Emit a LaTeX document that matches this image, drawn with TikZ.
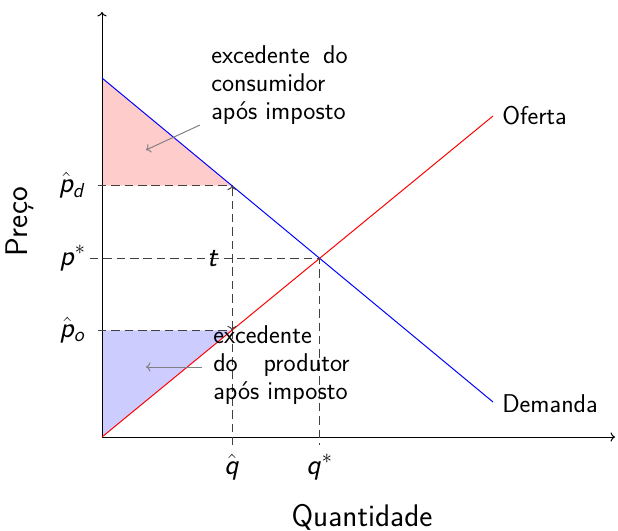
\documentclass[tikz,border=0pt]{standalone}
\usetikzlibrary{arrows.meta,positioning,intersections}
\renewcommand{\familydefault}{\sfdefault}
\DeclareMathAlphabet{\mathsfit}{OT1}{cmss}{m}{sl}
\newcommand{\vp}{\mathsfit{p}}
\newcommand{\vq}{\mathsfit{q}}
\tikzset{curve/.style={line width=0.7pt},
 guide/.style={draw=black!75,line width=0.7pt,dash pattern=on 6pt off 3.5pt},
 ax/.style={->,line width=0.7pt},
 pointer/.style={->,draw=gray,line width=0.7pt},
 lbl/.style={font=\fontsize{18.3}{20}\selectfont,inner sep=0pt},
 mlbl/.style={font=\fontsize{21}{24}\selectfont,inner sep=0pt},
 axlbl/.style={font=\fontsize{22.2}{26}\selectfont,inner sep=0pt},
 surplus/.style={lbl,text width=97pt,align=justify,anchor=west}}

\begin{document}
\begin{tikzpicture}[x=0.025cm,y=0.025cm]
\useasboundingbox (0,0) rectangle (618,531);
\coordinate (o) at (102,94);
\coordinate (ytop) at (102,519);
\coordinate (xend) at (615,94);
\coordinate (d0) at (102,453);
\coordinate (d1) at (493,129);
\coordinate (s1) at (493,415);
\coordinate (pd) at (102,345.3);
\coordinate (po) at (102,200.7);
\coordinate (qpd) at (232,345.3);
\coordinate (qpo) at (232,200.7);
\coordinate (qh) at (232,86);
\coordinate (qs) at (319.6,86);
\coordinate (eq) at (319.6,272.6);
\coordinate (ps) at (90,272.6);
% excedentes
\fill[red!20] (d0)--(pd)--(qpd)--cycle;
\fill[blue!20] (o)--(po)--(qpo)--cycle;
% eixos
\draw[ax] (o)--(ytop);
\draw[ax] (o)--(xend);
% oferta e demanda
\draw[curve,blue] (d0)--(d1);
\draw[curve,red] (o)--(s1);
% linhas auxiliares
\draw[guide] (98,345.3)--(qpd);
\draw[guide] (98,200.7)--(qpo);
\draw[guide] (ps)--(eq)--(qs);
\draw[guide] (qpo)--(qh);
\draw[guide,<->] (qpo)--(qpd);
% rotulos
\node[mlbl,anchor=east] (lpd) at (86,345.3) {$\hat\vp_{\mathsfit{d}}$};
\node[mlbl,anchor=east] (lps) at (86,272.6) {$\vp^*$};
\node[mlbl,anchor=east] (lpo) at (86,200.7) {$\hat\vp_{\mathsfit{o}}$};
\node[mlbl,anchor=north] (lqh) at (232,77) {$\hat\vq$};
\node[mlbl,anchor=north] (lqs) at (319.6,77) {$\vq^*$};
\node[mlbl] (t) at (213,272.6) {$\mathsfit{t}$};
\node[lbl,anchor=west] (of) at (502,415) {Oferta};
\node[lbl,anchor=west] (dm) at (502,127) {Demanda};
\node[axlbl,rotate=90] (py) at (20,309) {Preço};
\node[axlbl] (qx) at (362,14) {Quantidade};
\node[surplus] (ec) at (211,446) {excedente do\linebreak consumidor\\após imposto};
\node[surplus] (ep) at (213,166) {excedente\\do produtor\linebreak após imposto};
\coordinate (ec0) at (200,406);
\coordinate (ec1) at (146,381);
\coordinate (ep0) at (202,164);
\coordinate (ep1) at (146,164);
\draw[pointer] (ec0)--(ec1);
\draw[pointer] (ep0)--(ep1);
\end{tikzpicture}
\end{document}
